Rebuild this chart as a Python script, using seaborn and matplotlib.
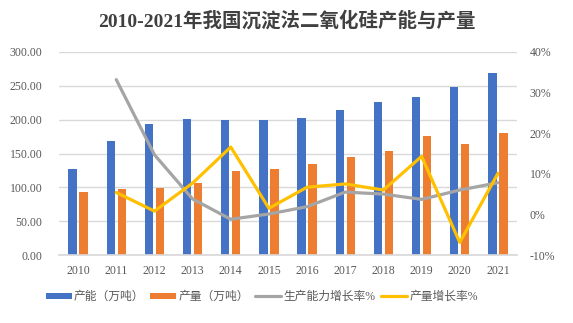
import numpy as np
import pandas as pd
import matplotlib
matplotlib.use("Agg")
import matplotlib.pyplot as plt
from matplotlib.patches import Patch
from matplotlib.lines import Line2D
import seaborn as sns

years = ["2010", "2011", "2012", "2013", "2014", "2015", "2016", "2017", "2018", "2019", "2020", "2021"]
capacity = [127, 169, 193, 201, 199, 199, 203, 215, 226, 234, 249, 269]
output = [93, 98, 99, 107, 124, 127, 135, 145, 154, 176, 164, 180]
capacity_growth = [np.nan, 33.2, 14.7, 3.8, -1.2, 0.1, 1.9, 5.5, 5.0, 3.7, 6.0, 7.8]
output_growth = [np.nan, 5.4, 0.8, 7.7, 16.6, 1.5, 6.7, 7.5, 6.0, 14.3, -6.9, 10.1]

title = "2010-2021年我国沉淀法二氧化硅产能与产量"
s_cap = "产能（万吨）"
s_out = "产量（万吨）"
s_capg = "生产能力增长率%"
s_outg = "产量增长率%"

BLUE = "#4472C4"
ORANGE = "#ED7D31"
GRAY = "#A5A5A5"
YELLOW = "#FFC000"
TXT = "#595959"

sns.set_theme(style="white")
FONTS = ["Liberation Serif", "Noto Sans CJK SC", "DejaVu Sans"]
plt.rcParams["font.family"] = FONTS

fig = plt.figure(figsize=(5.73, 3.23), dpi=100)
ax = fig.add_axes([59 / 573, 1 - 255 / 323, (517 - 59) / 573, (255 - 52) / 323])

bars = pd.DataFrame({
    "year": years * 2,
    "value": capacity + output,
    "series": [s_cap] * len(years) + [s_out] * len(years),
})
sns.barplot(data=bars, x="year", y="value", hue="series", order=years,
            palette=[BLUE, ORANGE], width=0.576, gap=0.24, ax=ax, legend=False,
            saturation=1, linewidth=0)

ax.set_ylim(0, 300)
ax.set_yticks(np.arange(0, 301, 50))
ax.set_yticklabels([f"{v:.2f}" for v in np.arange(0, 301, 50)])
ax.set_xlim(-0.5, len(years) - 0.5)
ax.grid(axis="y", color="#D9D9D9", linewidth=1)
ax.set_axisbelow(True)
for s in ["top", "right", "left"]:
    ax.spines[s].set_visible(False)
ax.spines["bottom"].set_color("#D9D9D9")
ax.set_xlabel("")
ax.set_ylabel("")
ax.tick_params(axis="both", colors=TXT, labelsize=8.5, length=0)
ax.tick_params(axis="y", pad=12)
ax.tick_params(axis="x", pad=7)

ax2 = ax.twinx()
pos = np.arange(len(years))
lines = pd.DataFrame({"pos": pos, "cg": capacity_growth, "og": output_growth})
sns.lineplot(data=lines, x="pos", y="cg", color=GRAY, linewidth=2.3, ax=ax2)
sns.lineplot(data=lines, x="pos", y="og", color=YELLOW, linewidth=2.3, ax=ax2)
ax2.set_ylim(-10, 40)
ax2.set_yticks(np.arange(-10, 41, 10))
ax2.set_yticklabels([f"{v}%" for v in range(-10, 41, 10)])
ax2.set_xlim(-0.5, len(years) - 0.5)
for s in ["top", "right", "left", "bottom"]:
    ax2.spines[s].set_visible(False)
ax2.set_xlabel("")
ax2.set_ylabel("")
ax2.tick_params(axis="y", colors=TXT, labelsize=8.5, length=0, pad=9)

fig.text(0.5, 1 - 21 / 323, title, ha="center", va="center", fontsize=14,
         fontweight="bold", color="#404040", family=FONTS)

handles = [
    Patch(facecolor=BLUE, edgecolor="none"),
    Patch(facecolor=ORANGE, edgecolor="none"),
    Line2D([], [], color=GRAY, linewidth=2.3),
    Line2D([], [], color=YELLOW, linewidth=2.3),
]
leg = fig.legend(handles, [s_cap, s_out, s_capg, s_outg], loc="center",
                 bbox_to_anchor=(262 / 573, 1 - 297 / 323), ncol=4, frameon=False,
                 fontsize=8.5, handlelength=2.2, handleheight=0.45,
                 handletextpad=0.2, columnspacing=0.5)
for t in leg.get_texts():
    t.set_color(TXT)

fig.savefig("out.png", dpi=100)
